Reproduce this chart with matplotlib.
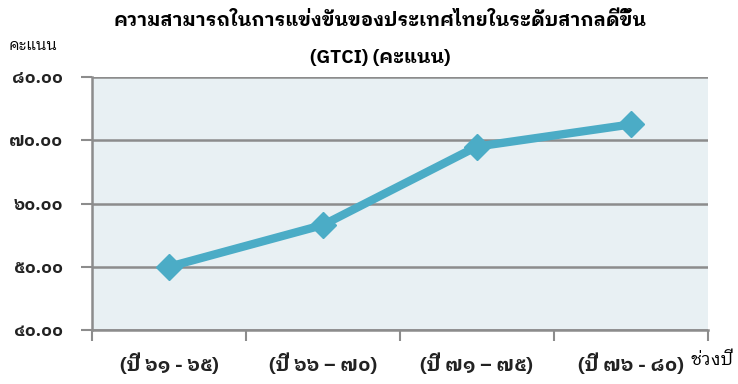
import matplotlib
matplotlib.use("Agg")
import matplotlib.pyplot as plt
from matplotlib.ticker import FuncFormatter, FixedLocator

plt.rcParams['font.family'] = ['IBM Plex Sans Thai Looped', 'Noto Sans Thai Looped', 'Noto Sans', 'DejaVu Sans']

periods = ["(ปี ๖๑ - ๖๕)", "(ปี ๖๖ – ๗๐)", "(ปี ๗๑ – ๗๕)", "(ปี ๗๖ - ๘๐)"]
scores = [50.0, 56.6, 69.0, 72.5]
yticks = [40, 50, 60, 70, 80]

thai_digits = str.maketrans("0123456789", "๐๑๒๓๔๕๖๗๘๙")


def thai_fmt(v, pos):
    return f"{v:.2f}".translate(thai_digits)


fig = plt.figure(figsize=(7.38, 3.84), dpi=100)
ax = fig.add_axes([0.1247, 0.1406, 0.8343, 0.6589])
ax.set_facecolor("#E8F0F3")

x = list(range(len(periods)))
ax.plot(x, scores, color="#4BACC6", lw=6, marker="D", markersize=13,
        solid_joinstyle="miter", zorder=3, clip_on=False)

ax.set_xlim(-0.5, 3.5)
ax.set_ylim(40, 80)
ax.set_yticks(yticks)
ax.yaxis.set_major_formatter(FuncFormatter(thai_fmt))
ax.grid(axis="y", color="#8C8C8C", lw=1.8)
ax.set_axisbelow(True)

# category labels sit between the boundary ticks
ax.xaxis.set_major_locator(FixedLocator([-0.5, 0.5, 1.5, 2.5, 3.5]))
ax.xaxis.set_major_formatter(FuncFormatter(lambda v, p: ""))
ax.xaxis.set_minor_locator(FixedLocator(x))
ax.set_xticklabels(periods, minor=True)
ax.tick_params(axis="x", which="minor", length=0, pad=17, labelsize=14)
ax.tick_params(axis="x", which="major", length=8, width=1.5, color="#8C8C8C")
ax.tick_params(axis="y", length=8, width=1.5, color="#8C8C8C", pad=13, labelsize=12.5)
for lbl in ax.get_xticklabels(minor=True) + ax.get_yticklabels():
    lbl.set_fontweight("bold")
    lbl.set_color("#222222")

for side in ["top", "right"]:
    ax.spines[side].set_visible(False)
for side in ["left", "bottom"]:
    ax.spines[side].set_color("#8C8C8C")
    ax.spines[side].set_linewidth(1.8)

fig.text(0.515, 0.945, "ความสามารถในการแข่งขันของประเทศไทยในระดับสากลดีขึ้น",
         ha="center", va="center", fontsize=13.7, fontweight="bold")
fig.text(0.515, 0.85, "(GTCI) (คะแนน)", ha="center", va="center",
         fontsize=13.7, fontweight="bold")
fig.text(0.045, 0.88, "คะแนน", ha="center", va="center", fontsize=11)
fig.text(0.935, 0.062, "ช่วงปี", ha="left", va="center", fontsize=13)

fig.savefig("out.png", dpi=100)
